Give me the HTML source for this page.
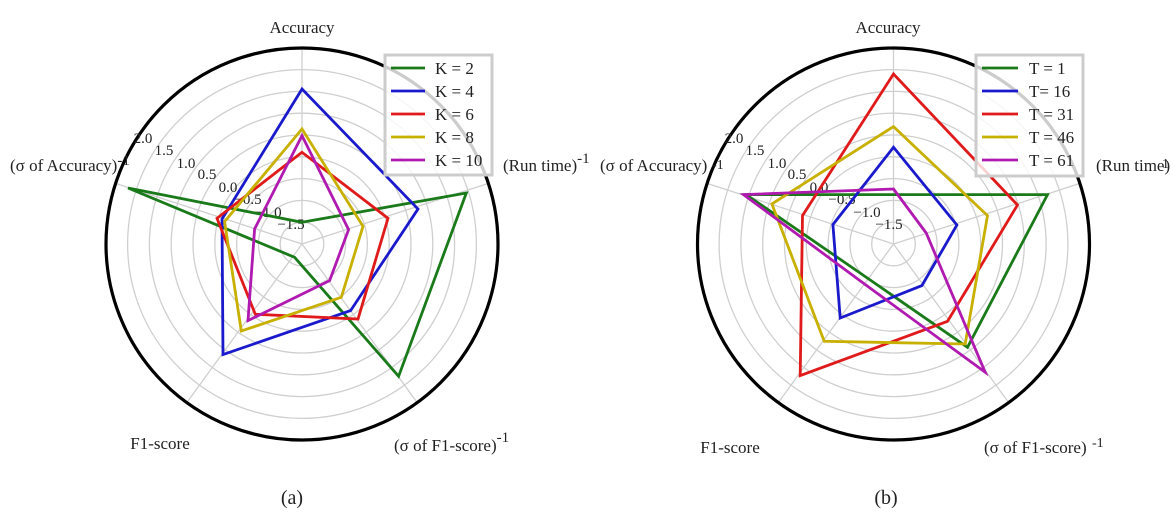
<!DOCTYPE html>
<html><head><meta charset="utf-8"><style>
html,body{margin:0;padding:0;background:#fff;}
svg{display:block;font-family:"Liberation Serif",serif;}
</style></head><body>
<svg width="1176" height="520" viewBox="0 0 1176 520" xmlns="http://www.w3.org/2000/svg">
<defs>
<g id="grid" fill="none" stroke="#cfcfcf" stroke-width="1.3">
<circle r="21.8"/><circle r="43.6"/><circle r="65.4"/><circle r="87.2"/><circle r="109"/><circle r="130.8"/><circle r="152.6"/><circle r="174.4"/>
<line x1="0" y1="0" x2="0" y2="-196"/><line x1="0" y1="0" x2="186.4" y2="-60.6"/><line x1="0" y1="0" x2="115.2" y2="158.6"/><line x1="0" y1="0" x2="-115.2" y2="158.6"/><line x1="0" y1="0" x2="-186.4" y2="-60.6"/>
<circle r="196" stroke="#000" stroke-width="3.2"/>
</g>
</defs>
<!-- LEFT -->
<use href="#grid" x="302" y="244"/>
<g fill="#222" font-size="15">
<text x="143" y="143" text-anchor="middle">2.0</text>
<text x="164" y="155" text-anchor="middle">1.5</text>
<text x="186" y="168" text-anchor="middle">1.0</text>
<text x="207" y="179" text-anchor="middle">0.5</text>
<text x="228" y="192" text-anchor="middle">0.0</text>
<text x="248" y="204" text-anchor="middle">−0.5</text>
<text x="268" y="217" text-anchor="middle">−1.0</text>
<text x="291" y="229" text-anchor="middle">−1.5</text>
</g>
<g transform="translate(1.3,2.3)" fill="none" stroke-width="2.8">
<polygon stroke="#1a7a1a" points="300.7,220 465,190.7 397.3,374 293.3,255 126.7,185.7"/>
<polygon stroke="#1a1acc" points="300.7,86.7 416.7,206.7 349.3,308.3 221.7,352.3 220.7,216.7"/>
<polygon stroke="#e01a1a" points="300.7,150 386.7,216 356.7,316.7 254,312 215.7,216"/>
<polygon stroke="#c8b000" points="300.7,126.7 361.7,224 340,295 240,328.7 223.3,219.3"/>
<polygon stroke="#b01ab0" points="300.7,133.3 347.3,227.3 328.3,278.3 246.7,318.3 253.3,226.7"/>
</g>
<rect x="385" y="55" width="107" height="120" fill="#fff" fill-opacity="0.8" stroke="#cccccc" stroke-width="3"/>
<g stroke-width="2.8">
<line x1="391" y1="68" x2="425" y2="68" stroke="#1a7a1a"/>
<line x1="391" y1="91" x2="425" y2="91" stroke="#1a1acc"/>
<line x1="391" y1="114" x2="425" y2="114" stroke="#e01a1a"/>
<line x1="391" y1="137" x2="425" y2="137" stroke="#c8b000"/>
<line x1="391" y1="160" x2="425" y2="160" stroke="#b01ab0"/>
</g>
<g font-size="17" fill="#222">
<text x="435" y="74">K = 2</text><text x="435" y="97">K = 4</text><text x="435" y="120">K = 6</text><text x="435" y="143">K = 8</text><text x="435" y="166">K = 10</text>
</g>
<g font-size="17" fill="#222">
<text x="302" y="33" text-anchor="middle">Accuracy</text>
<text x="503" y="171">(Run time)<tspan dy="-8" font-size="15">-1</tspan></text>
<text x="10" y="171">(σ of  Accuracy)<tspan dy="-6" font-size="15">-1</tspan></text>
<text x="160" y="449" text-anchor="middle">F1-score</text>
<text x="394" y="451">(σ  of  F1-score)<tspan dy="-9" font-size="15">-1</tspan></text>
<text x="292" y="504" text-anchor="middle" font-size="20">(a)</text>
</g>
<!-- RIGHT -->
<use href="#grid" x="893.5" y="244"/>
<g fill="#222" font-size="15">
<text x="734" y="143" text-anchor="middle">2.0</text>
<text x="755" y="155" text-anchor="middle">1.5</text>
<text x="777" y="168" text-anchor="middle">1.0</text>
<text x="797" y="179" text-anchor="middle">0.5</text>
<text x="819" y="192" text-anchor="middle">0.0</text>
<text x="842" y="204" text-anchor="middle">−0.5</text>
<text x="867" y="217" text-anchor="middle">−1.0</text>
<text x="889" y="229" text-anchor="middle">−1.5</text>
</g>
<g transform="translate(0.2,2.3)" fill="none" stroke-width="2.8">
<polygon stroke="#1a7a1a" points="893.3,192.3 1047.3,192.3 967.3,345 868,276.3 746,192.3"/>
<polygon stroke="#1a1acc" points="893.3,145 956.7,222.7 921.7,283.3 840,315.7 832.7,222.3"/>
<polygon stroke="#e01a1a" points="893.3,71.7 1017.3,202.7 947.3,319 800,373.3 802.3,213.3"/>
<polygon stroke="#c8b000" points="893.3,124.3 987.3,213.3 965,341.7 824,339 771.7,201.7"/>
<polygon stroke="#b01ab0" points="893.3,186.7 926,230.7 985,370 864.3,281.7 743.3,192.3"/>
</g>
<rect x="976" y="55" width="107" height="121" fill="#fff" fill-opacity="0.8" stroke="#cccccc" stroke-width="3"/>
<g stroke-width="2.8">
<line x1="982" y1="68" x2="1018" y2="68" stroke="#1a7a1a"/>
<line x1="982" y1="91" x2="1018" y2="91" stroke="#1a1acc"/>
<line x1="982" y1="114" x2="1018" y2="114" stroke="#e01a1a"/>
<line x1="982" y1="137" x2="1018" y2="137" stroke="#c8b000"/>
<line x1="982" y1="160" x2="1018" y2="160" stroke="#b01ab0"/>
</g>
<g font-size="17" fill="#222">
<text x="1029" y="74">T = 1</text><text x="1029" y="97">T= 16</text><text x="1029" y="120">T = 31</text><text x="1029" y="143">T = 46</text><text x="1029" y="166">T = 61</text>
</g>
<g font-size="17" fill="#222">
<text x="888" y="33" text-anchor="middle">Accuracy</text>
<text x="1096" y="171">(Run time)</text><text x="1162" y="168" font-size="14">1</text>
<text x="600" y="171">(σ of  Accuracy)</text><text x="712" y="169" font-size="14">-1</text>
<text x="730" y="453" text-anchor="middle">F1-score</text>
<text x="984" y="453">(σ  of  F1-score)</text><text x="1092" y="447" font-size="14">-1</text>
<text x="886" y="504" text-anchor="middle" font-size="20">(b)</text>
</g>
</svg>
</body></html>
